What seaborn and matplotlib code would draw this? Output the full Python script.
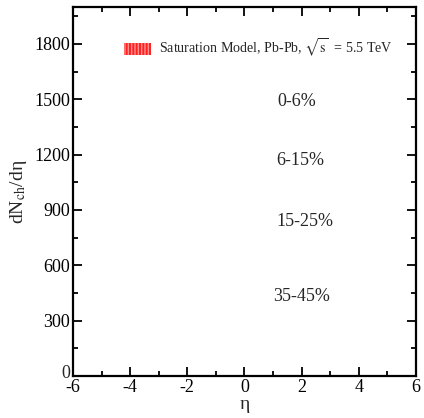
import matplotlib
matplotlib.use("Agg")
import matplotlib.pyplot as plt
import seaborn as sns
from matplotlib.patches import Patch
from matplotlib.ticker import MultipleLocator, FuncFormatter

# Label centralita dan posisi teksnya (eta, dN/deta)
centralitas = ["0-6%", "6-15%", "15-25%", "35-45%"]
posisi_eta = [1.15, 1.12, 1.12, 1.02]
posisi_dndeta = [1490, 1170, 840, 430]

legend_label = r"Saturation Model, Pb-Pb, $\sqrt{\rm s}$  = 5.5 TeV"

sns.set_style("ticks")
plt.rcParams["font.family"] = ["Liberation Serif", "DejaVu Serif"]
plt.rcParams["mathtext.fontset"] = "stix"
plt.rcParams["axes.unicode_minus"] = False

fig = plt.figure(figsize=(4.24, 4.18), dpi=100)
ax = fig.add_axes([0.172, 0.1005, 0.809, 0.8825])

ax.set_xlim(-6, 6)
ax.set_ylim(0, 2000)
ax.xaxis.set_major_locator(MultipleLocator(2))
ax.xaxis.set_minor_locator(MultipleLocator(1))
ax.yaxis.set_major_locator(MultipleLocator(300))
ax.yaxis.set_minor_locator(MultipleLocator(150))
ax.tick_params(which="both", direction="in", top=True, right=True,
               labeltop=False, labelright=False, width=1.3, colors="black",
               labelsize=13, pad=2)
ax.tick_params(which="major", length=6.5)
ax.tick_params(which="minor", length=3.5)
for s in ax.spines.values():
    s.set_linewidth(1.6)
    s.set_color("black")

# label "0" di sumbu y ditulis terpisah, sedikit lebih tinggi dari "-6"
ax.yaxis.set_major_formatter(FuncFormatter(lambda v, p: "" if v == 0 else f"{v:.0f}"))
ax.text(-0.008, -0.017, "0", transform=ax.transAxes, ha="right", va="bottom", fontsize=13)

for lab, x, y in zip(centralitas, posisi_eta, posisi_dndeta):
    ax.text(x, y, lab, fontsize=13, va="center", ha="left")

ax.set_xlabel("η", fontsize=14, labelpad=0)
ax.set_ylabel(r"dN$_{\rm ch}$/dη", fontsize=14, labelpad=4)

handle = Patch(facecolor="#ff2020", edgecolor="#ff9090", hatch="|||||", linewidth=0)
ax.legend([handle], [legend_label], loc="upper right", frameon=False,
          fontsize=10.1, bbox_to_anchor=(0.970, 0.953), handlelength=1.9,
          handleheight=0.9, handletextpad=0.6)

fig.savefig("out.png", dpi=100)
